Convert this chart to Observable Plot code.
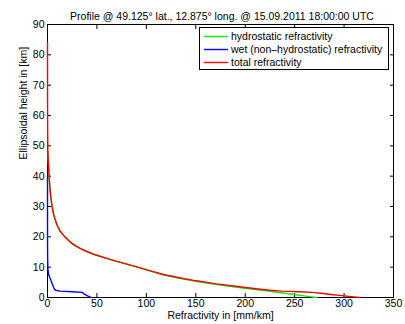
<!DOCTYPE html>
<html><head><meta charset="utf-8">
<script src="https://cdn.jsdelivr.net/npm/d3@7"></script>
<script src="https://cdn.jsdelivr.net/npm/@observablehq/plot@0.6"></script>
<style>
body{margin:0;background:#fff;font-family:"Liberation Sans",Arial,sans-serif;}
#wrap{position:relative;width:405px;height:324px;}
#legend{position:absolute;left:199px;top:27px;width:188px;height:41px;border:1px solid #000;background:#fff;font-size:10.5px;color:#000;}
.row{position:absolute;left:0;height:13px;line-height:13px;white-space:nowrap;}
.sw{position:absolute;left:4px;top:5px;}
.lb{position:absolute;left:31px;top:0;}
</style></head>
<body><div id="wrap"></div>
<script>
const title = "Profile @ 49.125° lat., 12.875° long. @ 15.09.2011 18:00:00 UTC";
const xLabel = "Refractivity in [mm/km]";
const yLabel = "Ellipsoidal height in [km]";
const seriesNames = ["hydrostatic refractivity", "wet (non\u2013hydrostatic) refractivity", "total refractivity"];
const seriesColors = ["#00ee00", "#0000ff", "#ff0000"];
const xTicks = [0, 50, 100, 150, 200, 250, 300, 350];
const yTicks = [0, 10, 20, 30, 40, 50, 60, 70, 80, 90];

// heights in km
const heights = [0,0.3,0.7,1.0,1.3,1.7,1.9,2.1,2.4,2.8,3.3,3.8,4.5,5.5,6.5,7.5,9,10,11,12,13,14,15,16,17,18,20,22,24,27,30,35,40,45,48,55,65,84];
const hydro = [272,265,256,249,242,233,229,224,217,206,194,182.5,166,147,131,117,101,91,80,69,59,49,41,34,28.5,24,17.5,12.5,9.5,6.5,4.6,2.7,1.6,0.8,0.4,null,null,null];
const wet = [44,42,39.5,38,36.5,35,25,13,8,7,6.2,5.6,4.8,3.6,2.4,1.2,0.5,0.35,0.3,0.2,0.15,0.12,0.1,0.08,0.07,0.06,0.05,0.04,0.03,0.02,0.01,0.005,0,null,null,null,null,null];
const total = [316,307,295.5,287,278.5,268,254,237,225,213,200.2,188.1,170.8,150.6,133.4,118.2,101.5,91.3,80.3,69.2,59.1,49.1,41,34,28.5,24,17.5,12.5,9.5,6.5,4.6,2.7,1.6,0.8,0.4,0.15,0.05,0];

const rows = heights.map((h, i) => ({h, hydro: hydro[i], wet: wet[i], total: total[i]}));

const chart = Plot.plot({
  width: 405, height: 324,
  marginLeft: 47, marginRight: 12, marginTop: 24, marginBottom: 27,
  style: {fontFamily: '"Liberation Sans", Arial, sans-serif', fontSize: "10.5px", color: "#000", background: "#fff"},
  x: {domain: [0, 350]},
  y: {domain: [0, 90]},
  marks: [
    Plot.frame({stroke: "#000", strokeWidth: 1}),
    Plot.axisX({ticks: xTicks, anchor: "bottom", tickSize: -4, tickPadding: 6.5, label: null, tickFormat: d => d}),
    Plot.axisX({ticks: xTicks, anchor: "top", tickSize: -4, text: null, label: null}),
    Plot.axisY({ticks: yTicks, anchor: "left", tickSize: -4, tickPadding: 7, label: null, tickFormat: d => d}),
    Plot.axisY({ticks: yTicks, anchor: "right", tickSize: -4, text: null, label: null}),
    Plot.line(rows, {x: "hydro", y: "h", stroke: seriesColors[0], strokeWidth: 1.4}),
    Plot.line(rows, {x: "wet", y: "h", stroke: seriesColors[1], strokeWidth: 1.4}),
    Plot.line(rows, {x: "total", y: "h", stroke: seriesColors[2], strokeWidth: 1.4}),
    Plot.text([title], {text: d => d, frameAnchor: "top", dy: -12, dx: 1.5, fontSize: 10.5}),
    Plot.text([xLabel], {text: d => d, frameAnchor: "bottom", dy: 21.5, fontSize: 10.5}),
    Plot.text([yLabel], {text: d => d, frameAnchor: "left", dx: -24, dy: -1.5, rotate: -90, fontSize: 10.5})
  ]
});
const wrap = document.getElementById("wrap");
wrap.appendChild(chart);
const leg = document.createElement("div");
leg.id = "legend";
seriesNames.forEach((n, i) => {
  const r = document.createElement("div");
  r.className = "row";
  r.style.top = (1.5 + i * 13.3) + "px";
  r.innerHTML = `<svg class="sw" width="24" height="3"><line x1="0" x2="24" y1="1.5" y2="1.5" stroke="${seriesColors[i]}" stroke-width="1.4"/></svg><span class="lb">${n}</span>`;
  leg.appendChild(r);
});
wrap.appendChild(leg);
</script>
</body></html>
